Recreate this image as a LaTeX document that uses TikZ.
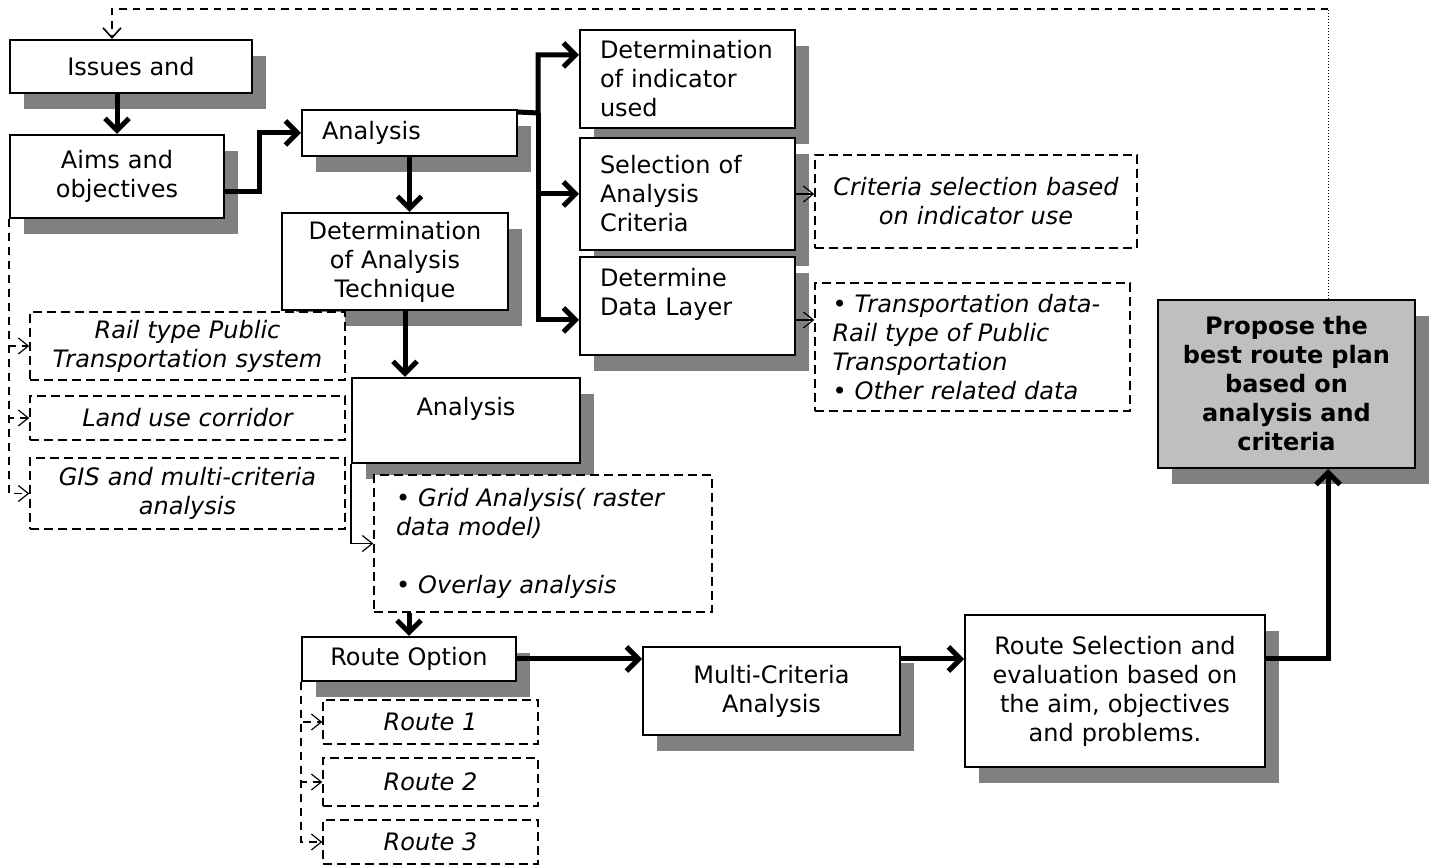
\documentclass[tikz,border=0pt]{standalone}
\usepackage{fontspec}
\setmainfont{DejaVu Sans}
\usetikzlibrary{arrows.meta,shadows}
\begin{document}
\fontsize{12pt}{14.5pt}\selectfont
\begin{tikzpicture}[x=0.5pt, y=-0.5pt, >={Straight Barb[length=6pt,width=12pt]},
  block/.style={draw, line width=1pt, fill=white, inner sep=0pt, drop shadow={shadow xshift=7pt, shadow yshift=-8pt, fill=black!50, opacity=1}},
  note/.style={draw, line width=0.7pt, dash pattern=on 4.5pt off 2.5pt, fill=white, inner sep=0pt, font=\itshape},
  flow/.style={->, line width=2.5pt},
  tip/.style={-{Straight Barb[length=5pt,width=8pt]}, line width=0.6pt},
  aux/.style={tip, dash pattern=on 4pt off 3pt}]
\useasboundingbox (0,0) rectangle (1437,865);
\node (issues) [block, minimum width=121pt, minimum height=26.5pt] at (131,66.5) {Issues and};
\node (aims) [block, minimum width=107pt, minimum height=41.5pt, text width=95pt, align=center] at (117,176.5) {Aims and\\objectives};
\node (analysis) [block, minimum width=107.5pt, minimum height=23pt, text width=87.5pt, align=left] at (409.5,133) {Analysis};
\node (indic) [block, minimum width=107.5pt, minimum height=49pt, text width=87.5pt, align=left] at (687.5,79) {Determination\\of indicator\\used};
\node (select) [block, minimum width=107.5pt, minimum height=56pt, text width=87.5pt, align=left] at (687.5,194) {Selection of\\Analysis\\Criteria};
\node (layer) [block, minimum width=107.5pt, minimum height=49pt, text width=87.5pt, align=left] at (687.5,306) {Determine\\Data Layer\\\mbox{}};
\node (dettech) [block, minimum width=113pt, minimum height=48.5pt, text width=100pt, align=center] at (395,261.5) {Determination\\of Analysis\\Technique};
\node (ana2) [block, minimum width=114pt, minimum height=42.5pt, text width=100pt, align=center] at (466,420.5) {Analysis\\\mbox{}};
\node (ropt) [block, minimum width=107pt, minimum height=22pt] at (409,659) {Route Option};
\node (multi) [block, minimum width=128.5pt, minimum height=44pt, text width=115pt, align=center] at (771.5,691) {Multi-Criteria\\Analysis};
\node (routesel) [block, minimum width=150pt, minimum height=76pt, text width=140pt, align=center] at (1115,691) {Route Selection and\\evaluation based on\\the aim, objectives\\and problems.};
\node (propose) [block, fill=black!25, minimum width=128.5pt, minimum height=84pt, text width=120pt, align=center, font=\bfseries] at (1286.5,384) {Propose the\\best route plan\\based on\\analysis and\\criteria};
\node (crit) [note, minimum width=161pt, minimum height=46.5pt, text width=150pt, align=center] at (976,201.5) {Criteria selection based\\on indicator use};
\node (trans) [note, minimum width=157.5pt, minimum height=64pt, text width=140pt, align=left] at (972.5,347) {• Transportation data-\\Rail type of Public\\Transportation\\• Other related data};
\node (rail) [note, minimum width=157.5pt, minimum height=34pt, text width=150pt, align=center] at (187.5,346) {Rail type Public\\Transportation system};
\node (land) [note, minimum width=157.5pt, minimum height=22pt] at (187.5,418) {Land use corridor};
\node (gis) [note, minimum width=157.5pt, minimum height=35.5pt, text width=150pt, align=center] at (187.5,493.5) {GIS and multi-criteria\\analysis};
\node (grid) [note, minimum width=169pt, minimum height=68.5pt, text width=147pt, align=left] at (543,543.5) {• Grid Analysis( raster\\data model)\\[14.5pt]• Overlay analysis};
\node (route1) [note, minimum width=107.5pt, minimum height=22pt] at (430.5,722) {Route 1};
\node (route2) [note, minimum width=107.5pt, minimum height=24pt] at (430.5,782) {Route 2};
\node (route3) [note, minimum width=107.5pt, minimum height=22pt] at (430.5,842) {Route 3};
\coordinate (fbtop) at (1328,9);
\coordinate (trunk) at (538,113);
\draw[line width=0.5pt, densely dotted] (propose.north -| fbtop) -- (fbtop);
\draw[-{Straight Barb[length=5pt,width=9pt]}, line width=0.8pt, dash pattern=on 3.75pt off 3pt] (fbtop) -| ([xshift=-9.5pt]issues.north);
\draw[flow] (issues.south -| aims.north) -- (aims.north);
\draw[flow] ([yshift=-7.5pt]aims.east) -- ++(34,0) |- (analysis.west);
\draw[flow] ([yshift=-1.5pt]analysis.north east) -- (trunk) |- ([yshift=12pt]indic.west);
\draw[flow] (trunk) |- (select.west);
\draw[flow] (trunk) |- ([yshift=-7pt]layer.west);
\draw[flow] (analysis.south) -- (analysis.south |- dettech.north);
\draw[flow] ([xshift=5pt]dettech.south) -- ([xshift=5pt]dettech.south |- ana2.north);
\draw[flow] (grid.south -| ropt.north) -- (ropt.north);
\draw[flow] (ropt.east) -- (ropt.east -| multi.west);
\draw[flow] (ropt.east -| multi.east) -- (ropt.east -| routesel.west);
\draw[flow] (ropt.east -| routesel.east) -| (propose.south -| fbtop);
\draw[tip] (select.east) -- (select.east -| crit.west);
\draw[tip] ([yshift=-7pt]layer.east) -- ([yshift=-7pt]layer.east -| trans.west);
\draw[tip] (ana2.south west) |- (grid.west);
\draw[aux] (aims.south west) |- (rail.west);
\draw[aux] (aims.south west) |- (land.west);
\draw[aux] (aims.south west) |- (gis.west);
\draw[aux] (ropt.south west) |- (route1.west);
\draw[aux] (ropt.south west) |- (route2.west);
\draw[aux] (ropt.south west) |- (route3.west);
\end{tikzpicture}
\end{document}
